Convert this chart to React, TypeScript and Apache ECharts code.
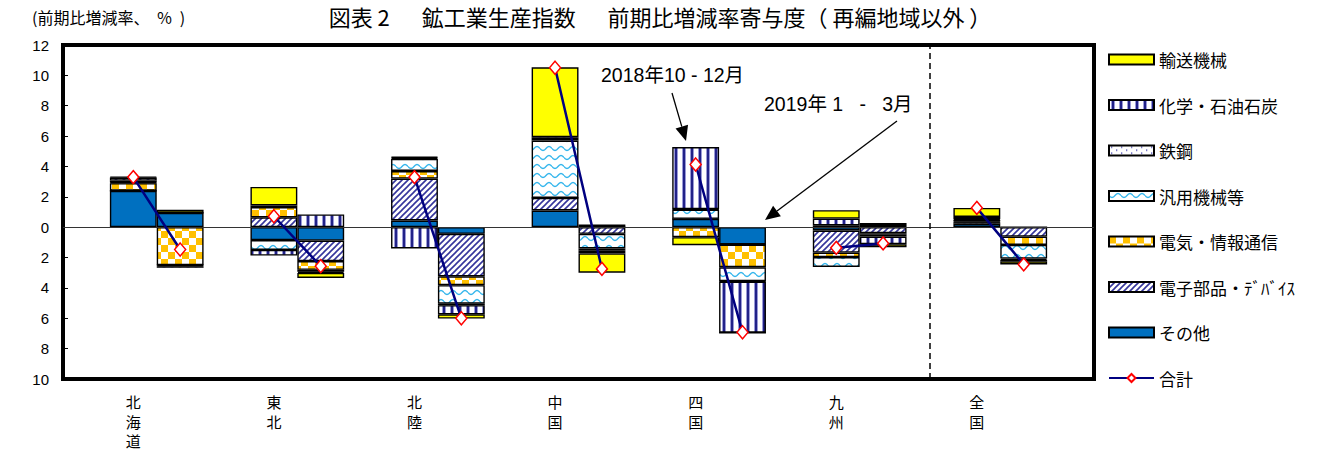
import React, { useEffect, useRef } from 'react';
import * as echarts from 'echarts';

// Regions (each has two periods: 2018年10-12月, 2019年1-3月)
const regions = ['北海道', '東北', '北陸', '中国', '四国', '九州', '全国'];
const yTicks = { min: -10, max: 12, interval: 2 };

// contributions, ordered [region0 Q4, region0 Q1, region1 Q4, region1 Q1, ...]
const transport = [0.05, 0.2, 1.22, -0.33, 0.05, -0.28, 4.6, -1.27, -0.53, 0, 0.55, -0.2, 0.6, -0.2];
const chemical = [0.2, -0.1, -0.37, 0.84, -1.4, -0.6, 0.12, -0.18, 4.1, -3.36, 0.45, -0.5, 0.15, -0.1];
const steel = [0.12, -0.08, 0.1, -0.08, 0.08, -0.1, 0.1, -0.15, 0.03, -0.03, 0.12, 0.13, 0.05, -0.08];
const generalMachinery = [0.05, 0, -0.65, -0.12, 0.8, -1.22, 3.78, -0.96, 0.6, -0.92, -0.65, -0.12, 0.1, -0.9];
const electrical = [0.5, -2.5, 0.68, -0.58, 0.5, -0.58, 0, 0.18, -0.66, -1.5, -0.3, -0.1, 0.05, -0.55];
const electronicParts = [0, 0, 0.65, -1.35, 2.76, -2.8, 0.83, -0.44, 0, 0, -1.45, -0.4, 0.1, -0.62];
const others = [2.4, 0.95, -0.85, -0.88, 0.44, -0.44, 1.1, 0, 0.55, -1.14, -0.22, 0.15, 0.22, 0];
const total = [3.3, -1.47, 0.72, -2.57, 3.3, -6.0, 10.5, -2.75, 4.13, -6.92, -1.36, -1.07, 1.27, -2.45];

const names = {
  transport: '輸送機械',
  chemical: '化学・石油石炭',
  steel: '鉄鋼',
  general: '汎用機械等',
  electrical: '電気・情報通信',
  parts: '電子部品・ﾃﾞﾊﾞｲｽ',
  others: 'その他',
  total: '合計',
};

const SLOTS = regions.length * 3 + 1;
const slotIds = Array.from({ length: SLOTS }, (_, i) => 's' + i);
const slotLabels = slotIds.map((_, i) => {
  if (i % 3 === 1) return regions[(i - 1) / 3].split('').join('\n');
  return '';
});
function toSlots(arr: number[]): (number | null)[] {
  const out: (number | null)[] = new Array(SLOTS).fill(null);
  arr.forEach((v, k) => {
    const r = Math.floor(k / 2);
    const p = k % 2;
    out[3 * r + 1 + p] = v;
  });
  return out;
}

function tile(w: number, h: number, draw: (ctx: CanvasRenderingContext2D) => void) {
  const c = document.createElement('canvas');
  c.width = w;
  c.height = h;
  const ctx = c.getContext('2d')!;
  ctx.fillStyle = '#ffffff';
  ctx.fillRect(0, 0, w, h);
  draw(ctx);
  return { image: c, repeat: 'repeat' } as any;
}

const FONT = "'Liberation Sans', 'Noto Sans CJK JP', sans-serif";
const CJK = "'Noto Sans CJK JP', 'Liberation Sans', sans-serif";

export default function App() {
  const ref = useRef<HTMLDivElement>(null);
  useEffect(() => {
    document.body.style.margin = '0';
    const chart = echarts.init(ref.current!, undefined, { renderer: 'svg' });

    const stripes = tile(8, 8, (ctx) => {
      ctx.fillStyle = '#9a9ad6';
      ctx.fillRect(2, 0, 4, 8);
      ctx.fillStyle = '#222288';
      ctx.fillRect(3, 0, 2, 8);
    });
    const hatch = tile(6, 6, (ctx) => {
      ctx.strokeStyle = '#35359c';
      ctx.lineWidth = 1.6;
      ctx.beginPath();
      ctx.moveTo(-1, 7); ctx.lineTo(7, -1);
      ctx.moveTo(-1, 1); ctx.lineTo(1, -1);
      ctx.moveTo(5, 7); ctx.lineTo(7, 5);
      ctx.stroke();
    });
    const dots = tile(10, 6, (ctx) => {
      ctx.fillStyle = '#3333aa';
      ctx.fillRect(2, 1, 1.3, 1.3);
      ctx.fillRect(7, 4, 1.3, 1.3);
    });
    const wave = tile(12, 9, (ctx) => {
      ctx.strokeStyle = '#35b6ec';
      ctx.lineWidth = 1.4;
      ctx.beginPath();
      for (let x = 0; x <= 12; x += 0.5) {
        const y = 4.5 + 2 * Math.sin((2 * Math.PI * x) / 12);
        if (x === 0) ctx.moveTo(x, y);
        else ctx.lineTo(x, y);
      }
      ctx.stroke();
    });
    const checker = tile(14, 14, (ctx) => {
      ctx.fillStyle = '#ffc000';
      ctx.fillRect(0, 0, 7, 7);
      ctx.fillRect(7, 7, 7, 7);
    });

    const barDefs: [string, number[], any][] = [
      [names.others, others, '#0070c0'],
      [names.parts, electronicParts, hatch],
      [names.electrical, electrical, checker],
      [names.general, generalMachinery, wave],
      [names.steel, steel, dots],
      [names.chemical, chemical, stripes],
      [names.transport, transport, '#ffff00'],
    ];

    const series: any[] = barDefs.map(([name, arr, color], i) => ({
      name,
      type: 'bar',
      stack: 'contrib',
      barCategoryGap: '0%',
      data: toSlots(arr),
      itemStyle: { color, borderColor: '#000', borderWidth: 1.4 },
      z: 2,
      ...(i === 0
        ? {
            markLine: {
              silent: true,
              symbol: 'none',
              label: { show: false },
              data: [
                { yAxis: 0, lineStyle: { color: '#333', width: 1, type: 'solid' } },
                { xAxis: 's18', lineStyle: { color: '#000', width: 1.5, type: [6, 4] } },
              ],
            },
          }
        : {}),
    }));

    series.push({
      name: names.total,
      type: 'line',
      data: toSlots(total),
      connectNulls: false,
      symbol: 'diamond',
      symbolSize: [11, 13],
      showAllSymbol: true,
      lineStyle: { color: '#000080', width: 2.5 },
      itemStyle: { color: '#fff', borderColor: '#ff0000', borderWidth: 1.5 },
      z: 5,
    });

    const arrow = (sx: number, sy: number, tx: number, ty: number) => {
      const dx = tx - sx, dy = ty - sy;
      const L = Math.hypot(dx, dy);
      const ux = dx / L, uy = dy / L;
      const hl = 15, hw = 6.5;
      const bx = tx - ux * hl, by = ty - uy * hl;
      const px = -uy * hw, py = ux * hw;
      return [
        { type: 'line', shape: { x1: sx, y1: sy, x2: bx, y2: by }, style: { stroke: '#000', lineWidth: 1.3 } },
        {
          type: 'polygon',
          shape: { points: [[tx, ty], [bx + px, by + py], [bx - px, by - py]] },
          style: { fill: '#000' },
        },
      ];
    };

    chart.setOption({
      animation: false,
      title: {
        text: '図表 2　  鉱工業生産指数　  前期比増減率寄与度（ 再編地域以外 ）',
        left: 'center',
        top: 5,
        padding: 0,
        textStyle: { fontFamily: CJK, fontSize: 22, fontWeight: 'normal', color: '#000' },
      },
      legend: {
        orient: 'vertical',
        left: 1108,
        top: 51,
        padding: 0,
        itemWidth: 45,
        itemHeight: 10,
        itemGap: 28.5,
        textStyle: { fontFamily: CJK, fontSize: 17, color: '#000', lineHeight: 17 },
        data: [
          { name: names.transport, icon: 'rect' },
          { name: names.chemical, icon: 'rect' },
          { name: names.steel, icon: 'rect' },
          { name: names.general, icon: 'rect' },
          { name: names.electrical, icon: 'rect' },
          { name: names.parts, icon: 'rect' },
          { name: names.others, icon: 'rect' },
          { name: names.total },
        ],
      },
      grid: {
        left: 63,
        top: 45,
        width: 1031,
        height: 334,
        show: true,
        borderColor: '#000',
        borderWidth: 4,
        containLabel: false,
      },
      xAxis: {
        type: 'category',
        data: slotIds,
        axisLine: { show: false },
        axisTick: { show: false },
        axisLabel: {
          interval: 0,
          formatter: (_: string, idx: number) => slotLabels[idx],
          fontFamily: CJK,
          fontSize: 15,
          lineHeight: 19.5,
          color: '#000',
          margin: 13,
        },
      },
      yAxis: {
        type: 'value',
        min: yTicks.min,
        max: yTicks.max,
        interval: yTicks.interval,
        axisLine: { show: false },
        splitLine: { show: false },
        axisTick: { show: true, inside: true, length: 5, lineStyle: { color: '#000', width: 1 } },
        axisLabel: {
          formatter: (v: number) => String(Math.abs(v)),
          fontFamily: FONT,
          fontSize: 15,
          color: '#000',
          margin: 14,
        },
      },
      series,
      graphic: [
        {
          type: 'text',
          left: 32,
          top: 9,
          style: { text: '(前期比増減率、  ％  )', fontFamily: CJK, fontSize: 16, fill: '#000' },
        },
        {
          type: 'text',
          left: 601,
          top: 65,
          style: { text: '2018年10 - 12月', fontFamily: FONT, fontSize: 19.5, fill: '#000' },
        },
        {
          type: 'text',
          left: 764,
          top: 94,
          style: { text: '2019年 1   -   3月', fontFamily: FONT, fontSize: 19.5, fill: '#000' },
        },
        ...arrow(672, 93, 686, 141),
        ...arrow(897, 121, 765, 220),
      ],
    });
    return () => chart.dispose();
  }, []);
  return <div ref={ref} style={{ width: 1320, height: 454 }} />;
}
